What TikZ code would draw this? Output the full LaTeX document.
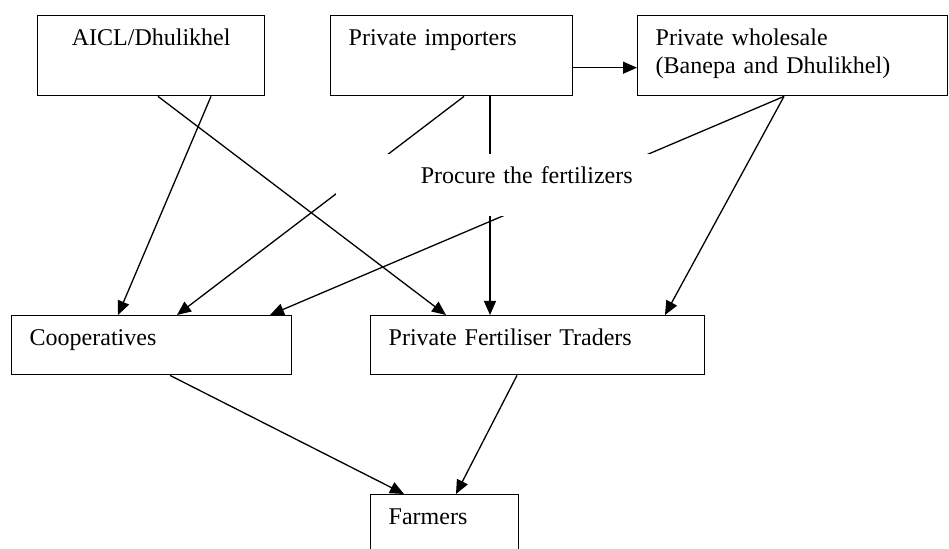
\documentclass[tikz,border=0pt]{standalone}
\usepackage{fontspec}
\setmainfont{Liberation Serif}
\usetikzlibrary{arrows.meta}
\tikzset{
  chainbox/.style={
    rectangle, draw, line width=0.7pt, anchor=north west, align=left,
    inner xsep=9pt, inner ysep=5pt, text height=10pt, text depth=20pt,
    font=\fontsize{12}{14}\selectfont
  },
  flow/.style={draw, line width=0.65pt, -{Triangle[length=7pt,width=6pt]}}
}
\begin{document}
\begin{tikzpicture}
  \useasboundingbox (0,0) rectangle (474.5pt,-274.5pt);
  \clip (0,0) rectangle (474.5pt,-274.5pt);
  % supply side
  \node[chainbox, text width=95.5pt, align=center] (aicl)  at (18.5pt,-7.5pt)  {AICL/Dhulikhel};
  \node[chainbox, text width=103pt]                (imp)   at (165pt,-7.5pt)   {Private importers};
  \node[chainbox, text width=137pt]                (whole) at (318.5pt,-7.5pt) {Private wholesale\\(Banepa and Dhulikhel)};
  % retail side
  \node[chainbox, text width=122pt, text depth=9.5pt] (coop) at (5.5pt,-157.5pt) {Cooperatives};
  \node[chainbox, text width=149pt, text depth=9.5pt] (trad) at (185pt,-157.5pt) {Private Fertiliser Traders};
  \node[chainbox, text width=56pt]                    (farm) at (185pt,-247pt)   {Farmers};
  % flows
  \draw[flow] ([yshift=-6pt]imp.east) -- ([yshift=-6pt]whole.west);
  \foreach \a/\ax/\b/\bx in {aicl/87/coop/53.5, aicl/60.5/trad/38, imp/67/coop/83,
                             imp/80/trad/60, whole/73.5/coop/129.5, whole/73.5/trad/147.5,
                             coop/79.5/farm/17, trad/73.5/farm/43}
    \draw[flow] ([xshift=\ax pt]\a.south west) -- ([xshift=\bx pt]\b.north west);
  % label box over the lines
  \node[chainbox, draw=none, fill=white, text width=139.5pt, align=right,
        text depth=11pt] (proc) at (167.5pt,-76.5pt) {Procure the fertilizers};
\end{tikzpicture}
\end{document}
